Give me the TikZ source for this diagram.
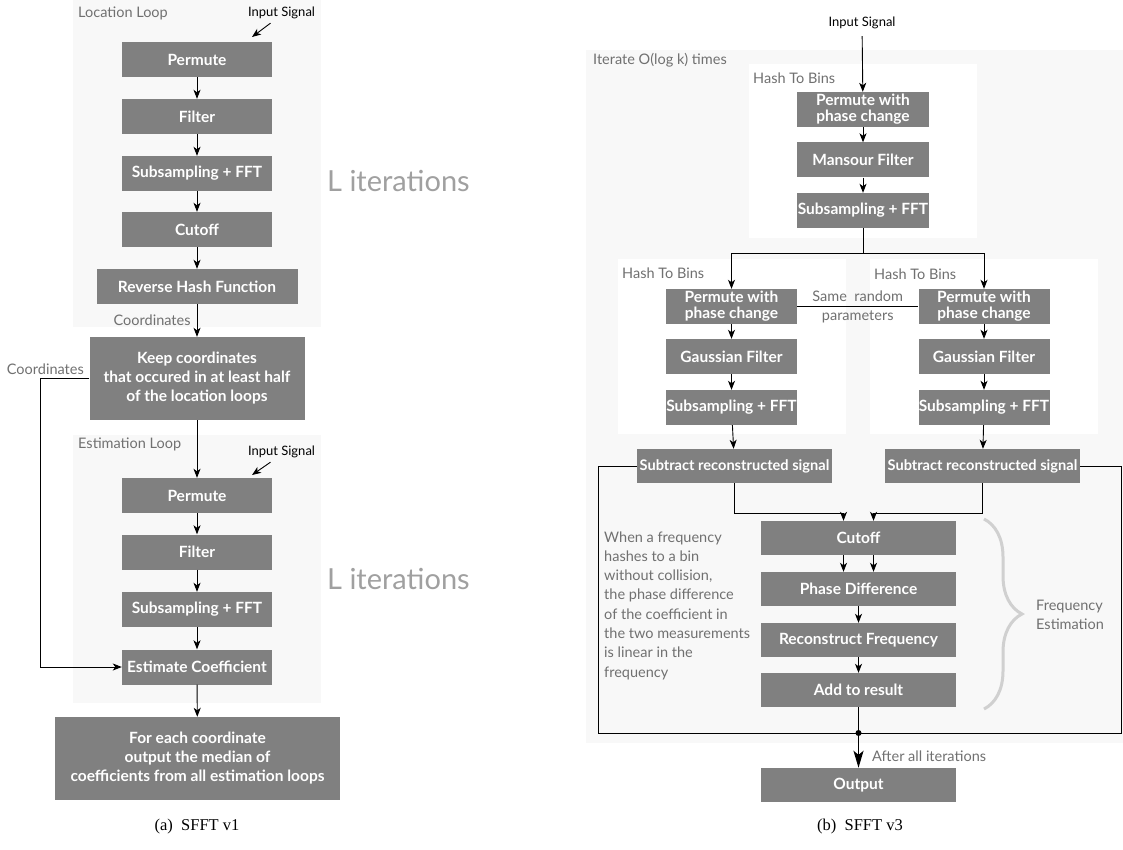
\documentclass[tikz,border=0pt]{standalone}
\usepackage{fontspec}
\setmainfont{Lato}
\newfontfamily\capfont{Liberation Serif}
\usetikzlibrary{arrows.meta,decorations.pathreplacing}
\definecolor{boxgray}{HTML}{808080}
\definecolor{loopbg}{HTML}{F8F8F8}
\definecolor{lblgray}{HTML}{707070}
\definecolor{itgray}{HTML}{A0A0A0}
\definecolor{bracegray}{HTML}{D0D0D0}
\begin{document}
\begin{tikzpicture}[x=1pt,y=-1pt,
  blk/.style={fill=boxgray, text=white, font=\fontsize{15.5}{19}\selectfont\bfseries, inner sep=0pt, minimum height=35pt, align=center},
  sblk/.style={blk, font=\fontsize{14.6}{19}\selectfont\bfseries},
  lbl/.style={text=lblgray, font=\fontsize{14.5}{19}\selectfont, inner sep=0pt},
  sig/.style={text=black, font=\fontsize{13}{15}\selectfont, inner sep=0pt},
  arr/.style={-{Stealth[length=9pt,width=7pt,inset=2.5pt]}, line width=0.9pt},
  lit/.style={text=itgray, font=\fontsize{29}{32}\selectfont, inner sep=0pt, anchor=west},
  captxt/.style={font=\capfont\fontsize{16.5}{18}\selectfont, inner sep=0pt}
]
\useasboundingbox (0,0) rectangle (1123,850);
% backgrounds
\fill[loopbg] (73,0) rectangle (321,327);
\fill[loopbg] (73,435) rectangle (321,703);
\fill[loopbg] (586,50) rectangle (1123,743);
\fill[white] (749,64) rectangle (977,238);
\fill[white] (618,259) rectangle (846,434);
\fill[white] (870,259) rectangle (1098,434);

% ---------------- left (a) ----------------
\node[lbl,anchor=west] (tloc) at (78,13) {Location Loop};
\node[sig] (in1) at (281.5,13) {Input Signal};
\coordinate (t1) at (252,37);
\draw[arr] ([xshift=-11pt,yshift=-4pt]in1.south) -- (t1);

\node[blk, minimum width=150pt] (lperm) at (197,59.5) {Permute};
\node[blk, minimum width=150pt] (lfilt) at (197,116.5) {Filter};
\node[blk, minimum width=150pt] (lsub) at (197,173.5) {Subsampling + FFT};
\node[blk, minimum width=150pt] (lcut) at (197,229.5) {Cutoff};
\node[blk, minimum width=201pt] (lrev) at (197,286.5) {Reverse Hash Function};
\node[lit] (lit1) at (327,181) {L iterations};

\node[blk, minimum width=215pt, minimum height=83pt] (keep) at (197,378.5) {Keep coordinates\\that occured in at least half\\of the location loops};

\draw[arr] (lperm) -- (lfilt);
\draw[arr] (lfilt) -- (lsub);
\draw[arr] (lsub) -- (lcut);
\draw[arr] (lcut) -- (lrev);
\draw[arr] (lrev) -- node[lbl, left=6pt] {Coordinates} (keep);

\node[lbl,anchor=west] (test) at (78,444) {Estimation Loop};
\node[sig] (in2) at (281.5,452) {Input Signal};
\coordinate (t2) at (252,475);
\draw[arr] ([xshift=-11pt,yshift=-4pt]in2.south) -- (t2);

\node[blk, minimum width=150pt] (eperm) at (197,495.5) {Permute};
\node[blk, minimum width=150pt] (efilt) at (197,552) {Filter};
\node[blk, minimum width=150pt] (esub) at (197,609.5) {Subsampling + FFT};
\node[blk, minimum width=150pt] (eest) at (197,667) {Estimate Coefficient};
\node[lit] (lit2) at (327,579) {L iterations};

\node[blk, minimum width=285pt, minimum height=83pt] (fe) at (197.5,758.5) {For each coordinate\\output the median of\\coefficients from all estimation loops};

\draw[arr] (keep) -- (eperm);
\draw[arr] (eperm) -- (efilt);
\draw[arr] (efilt) -- (esub);
\draw[arr] (esub) -- (eest);
\draw[arr] (eest) -- (fe);
\draw[arr] (keep.west) -- ++(-49,0) |- (eest.west);
\node[lbl, anchor=east] (coord2) at (84,369) {Coordinates};

\node[captxt] (capa) at (197,827) {(a)\ \ SFFT v1};

% ---------------- right (b) ----------------
\node[lbl,anchor=west] (tit) at (593,60) {Iterate O(log k) times};
\node[lbl,anchor=west] (th1) at (753,78) {Hash To Bins};
\node[lbl,anchor=west] (th2) at (622,273) {Hash To Bins};
\node[lbl,anchor=west] (th3) at (874,274) {Hash To Bins};

\node[sig] (in3) at (862,23) {Input Signal};
\node[blk, minimum width=132pt] (rperm) at (863,109.5) {Permute with\\[-3pt]phase change};
\node[blk, minimum width=132pt] (mans) at (863,160) {Mansour Filter};
\node[blk, minimum width=132pt] (rsub) at (863,210.5) {Subsampling + FFT};
\draw[arr, shorten <=7pt] (in3) -- (rperm);
\draw[arr] (rperm) -- (mans);
\draw[arr] (mans) -- (rsub);

\node[blk, minimum width=131pt] (lp) at (731.5,306.5) {Permute with\\[-3pt]phase change};
\node[blk, minimum width=131pt] (lg) at (731.5,356.5) {Gaussian Filter};
\node[blk, minimum width=131pt] (ls) at (731.5,407.5) {Subsampling + FFT};
\node[blk, minimum width=131pt] (rp) at (984,306.5) {Permute with\\[-3pt]phase change};
\node[blk, minimum width=131pt] (rg) at (984,356.5) {Gaussian Filter};
\node[blk, minimum width=131pt] (rs) at (984,407.5) {Subsampling + FFT};

\coordinate (split) at (863,253);
\draw[line width=0.9pt] (rsub) -- (split);
\draw[arr] (split) -| (lp.north);
\draw[arr] (split) -| (rp.north);
\draw[arr] (lp) -- (lg);
\draw[arr] (lg) -- (ls);
\draw[arr] (rp) -- (rg);
\draw[arr] (rg) -- (rs);
\draw[line width=0.9pt] (lp.east) -- node[lbl, align=center] {Same\ \ random\\parameters} (rp.west);

\node[sblk, minimum width=195pt, minimum height=34pt] (lsubt) at (734.5,466) {Subtract reconstructed signal};
\node[sblk, minimum width=195pt, minimum height=34pt] (rsubt) at (982.5,466) {Subtract reconstructed signal};
\draw[arr] (ls) -- (lsubt);
\draw[arr] (rs) -- (rsubt);

\node[blk, minimum width=195pt, minimum height=34pt] (cut) at (858.5,538) {Cutoff};
\node[blk, minimum width=195pt, minimum height=34pt] (phase) at (858.5,589) {Phase Difference};
\node[blk, minimum width=195pt, minimum height=34pt] (recon) at (858.5,640) {Reconstruct Frequency};
\node[blk, minimum width=195pt, minimum height=34pt] (add) at (858.5,690) {Add to result};
\node[blk, minimum width=195pt, minimum height=34pt] (out) at (858.5,785) {Output};

\draw[arr] (lsubt.south) -- ++(0,30) -| ([xshift=-15pt]cut.north);
\draw[arr] (rsubt.south) -- ++(0,30) -| ([xshift=15pt]cut.north);
\draw[arr] ([xshift=-15pt]cut.south) -- ([xshift=-15pt]phase.north);
\draw[arr] ([xshift=15pt]cut.south) -- ([xshift=15pt]phase.north);
\draw[arr] (phase) -- (recon);
\draw[arr] (recon) -- (add);

\coordinate (loopL) at (598,733);
\coordinate (loopR) at (1121,733);
\coordinate (dot) at (858.5,733);
\draw[line width=0.9pt] (lsubt.west) -| (loopL) -- (loopR) |- (rsubt.east);
\draw[line width=0.9pt] (add) -- (dot);
\fill (dot) circle (3pt);
\draw[-{Stealth[length=17pt,width=10pt,inset=4pt]}, line width=1.6pt] (dot) -- (out);
\node[lbl, anchor=west] (after) at (872,756) {After all iterations};

\node[lbl, anchor=west, align=left, font=\fontsize{14.5}{19.3}\selectfont] (note) at (604,605.5) {When a frequency\\hashes to a bin\\without collision,\\the phase difference\\of the coefficient in\\the two measurements\\is linear in the\\frequency};

\draw[bracegray, line width=3pt, decorate, decoration={brace, amplitude=38pt}] (984,519) -- (984,709);
\node[lbl, anchor=west, align=left, font=\fontsize{14.5}{18.5}\selectfont] (fest) at (1036,615) {Frequency\\Estimation};

\node[captxt] (capb) at (860,827) {(b)\ \ SFFT v3};
\end{tikzpicture}
\end{document}
